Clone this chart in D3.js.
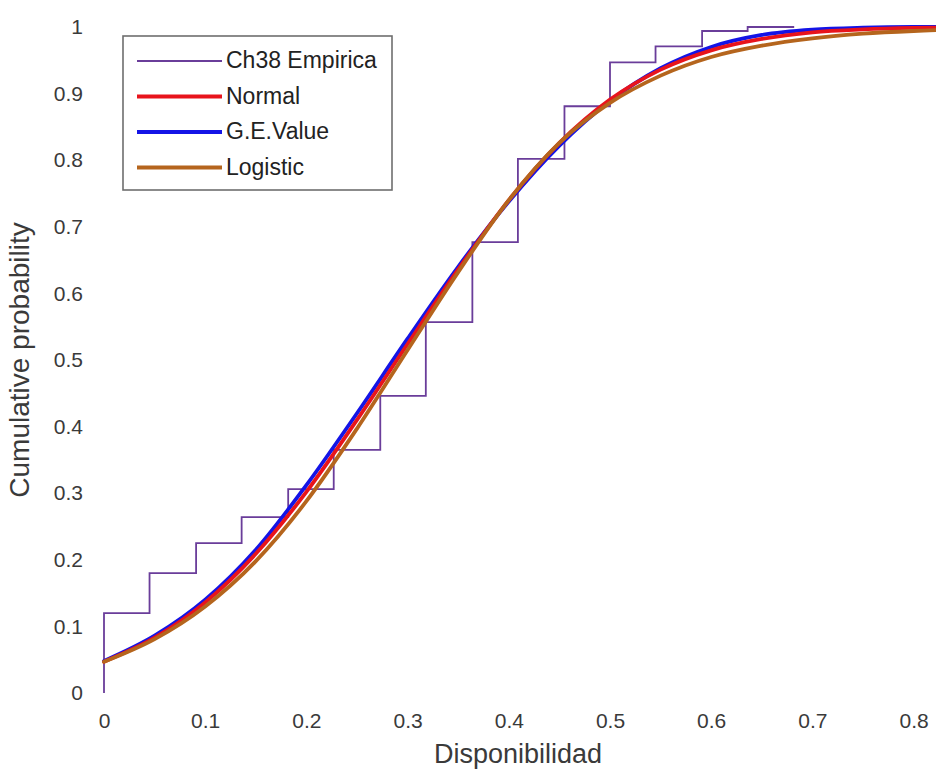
<!DOCTYPE html>
<html>
<head>
<meta charset="utf-8">
<script src="https://cdn.jsdelivr.net/npm/d3@7/dist/d3.min.js"></script>
<style>
  html, body { margin: 0; padding: 0; background: #fff; }
  svg { display: block; font-family: "Liberation Sans", Arial, Helvetica, sans-serif; }
</style>
</head>
<body>
<svg id="chart" width="936" height="773"></svg>
<script>
// Empirical CDF of availability (stairs), with three fitted distributions.
const ecdfX = [0, 0, 0.045, 0.091, 0.136, 0.182, 0.227, 0.273, 0.318, 0.364, 0.409, 0.455, 0.5, 0.545, 0.591, 0.636, 0.682];
const ecdfY = [0, 0.120, 0.180, 0.225, 0.264, 0.306, 0.365, 0.446, 0.557, 0.677, 0.802, 0.881, 0.947, 0.971, 0.994, 1.0, 1.0];

// Fitted CDFs sampled along the availability axis
const fitX = [0, 0.05, 0.10, 0.15, 0.20, 0.25, 0.30, 0.35, 0.40, 0.45, 0.50, 0.55, 0.60, 0.65, 0.70, 0.75, 0.80, 0.85];
const normalY = [0.047, 0.083, 0.136, 0.209, 0.302, 0.410, 0.524, 0.636, 0.740, 0.826, 0.891, 0.936, 0.965, 0.982, 0.992, 0.9965, 0.9987, 0.9995];
const gevY = [0.048, 0.086, 0.140, 0.215, 0.312, 0.420, 0.532, 0.640, 0.738, 0.822, 0.889, 0.938, 0.970, 0.988, 0.996, 0.999, 1.0, 1.0];
const logisticY = [0.047, 0.081, 0.130, 0.198, 0.288, 0.397, 0.515, 0.632, 0.740, 0.826, 0.886, 0.927, 0.955, 0.972, 0.983, 0.990, 0.994, 0.9964];

const seriesNames = ["Ch38 Empirica", "Normal", "G.E.Value", "Logistic"];

const xTicks = [0, 0.1, 0.2, 0.3, 0.4, 0.5, 0.6, 0.7, 0.8];
const xTickLabels = ["0", "0.1", "0.2", "0.3", "0.4", "0.5", "0.6", "0.7", "0.8"];
const yTicks = [0, 0.1, 0.2, 0.3, 0.4, 0.5, 0.6, 0.7, 0.8, 0.9, 1];
const yTickLabels = ["0", "0.1", "0.2", "0.3", "0.4", "0.5", "0.6", "0.7", "0.8", "0.9", "1"];

const xTitle = "Disponibilidad";
const yTitle = "Cumulative probability";

// Styling
const style = {
  "Ch38 Empirica": { color: "#6a3d9a", width: 1.8 },
  "Normal": { color: "#e8141c", width: 3.8 },
  "G.E.Value": { color: "#1414e6", width: 3.8 },
  "Logistic": { color: "#b5651d", width: 3.8 }
};
const textColor = "#3a3a3a";

const svg = d3.select("#chart");
svg.append("rect").attr("width", 936).attr("height", 773).attr("fill", "#fff");

const x = d3.scaleLinear().domain([0, 0.8]).range([104, 913.6]);
const y = d3.scaleLinear().domain([0, 1]).range([693, 27]);

// Axes: labels only, no axis lines or tick marks
const xAxis = d3.axisBottom(x).tickValues(xTicks)
  .tickFormat((d, i) => xTickLabels[i]).tickSize(0).tickPadding(20);
const gx = svg.append("g").attr("transform", `translate(0,${y(0)})`).call(xAxis);
gx.select(".domain").remove();
gx.selectAll("text").attr("font-size", 21).attr("fill", textColor)
  .attr("font-family", "Liberation Sans, Arial, sans-serif");

const yAxis = d3.axisLeft(y).tickValues(yTicks)
  .tickFormat((d, i) => yTickLabels[i]).tickSize(0).tickPadding(21);
const gy = svg.append("g").attr("transform", `translate(${x(0)},0)`).call(yAxis);
gy.select(".domain").remove();
gy.selectAll("text").attr("font-size", 21).attr("fill", textColor)
  .attr("font-family", "Liberation Sans, Arial, sans-serif");

// Axis titles
svg.append("text").attr("x", 518).attr("y", 756)
  .attr("text-anchor", "middle").attr("dominant-baseline", "middle")
  .attr("font-size", 27).attr("fill", textColor).text(xTitle);
svg.append("text")
  .attr("transform", `translate(22,${(y(0) + y(1)) / 2}) rotate(-90)`)
  .attr("text-anchor", "middle").attr("dominant-baseline", "middle")
  .attr("font-size", 28).attr("fill", textColor).text(yTitle);

// Plot lines
const plot = svg.append("g");

const stairs = d3.line().x(d => x(d[0])).y(d => y(d[1])).curve(d3.curveStepAfter);
plot.append("path")
  .datum(ecdfX.map((v, i) => [v, ecdfY[i]]))
  .attr("d", stairs).attr("fill", "none")
  .attr("stroke", style["Ch38 Empirica"].color)
  .attr("stroke-width", style["Ch38 Empirica"].width);

const smooth = d3.line().x(d => x(d[0])).y(d => y(d[1])).curve(d3.curveMonotoneX);
const fits = [
  ["G.E.Value", gevY],
  ["Normal", normalY],
  ["Logistic", logisticY]
];
fits.forEach(([name, vals]) => {
  plot.append("path")
    .datum(fitX.map((v, i) => [v, vals[i]]))
    .attr("d", smooth).attr("fill", "none")
    .attr("stroke", style[name].color)
    .attr("stroke-width", style[name].width)
    .attr("stroke-linecap", "round")
    .attr("stroke-linejoin", "round");
});

// Legend
const legend = svg.append("g");
legend.append("rect")
  .attr("x", 123).attr("y", 36).attr("width", 269).attr("height", 154)
  .attr("fill", "#fff").attr("stroke", "#6e6e6e").attr("stroke-width", 1.6);
seriesNames.forEach((name, i) => {
  const ly = 61 + i * 35.5;
  legend.append("line")
    .attr("x1", 137).attr("x2", 222).attr("y1", ly).attr("y2", ly)
    .attr("stroke", style[name].color)
    .attr("stroke-width", style[name].width);
  legend.append("text")
    .attr("x", 226).attr("y", ly + 1)
    .attr("dominant-baseline", "middle")
    .attr("font-size", 23).attr("fill", "#222")
    .text(name);
});
</script>
</body>
</html>
